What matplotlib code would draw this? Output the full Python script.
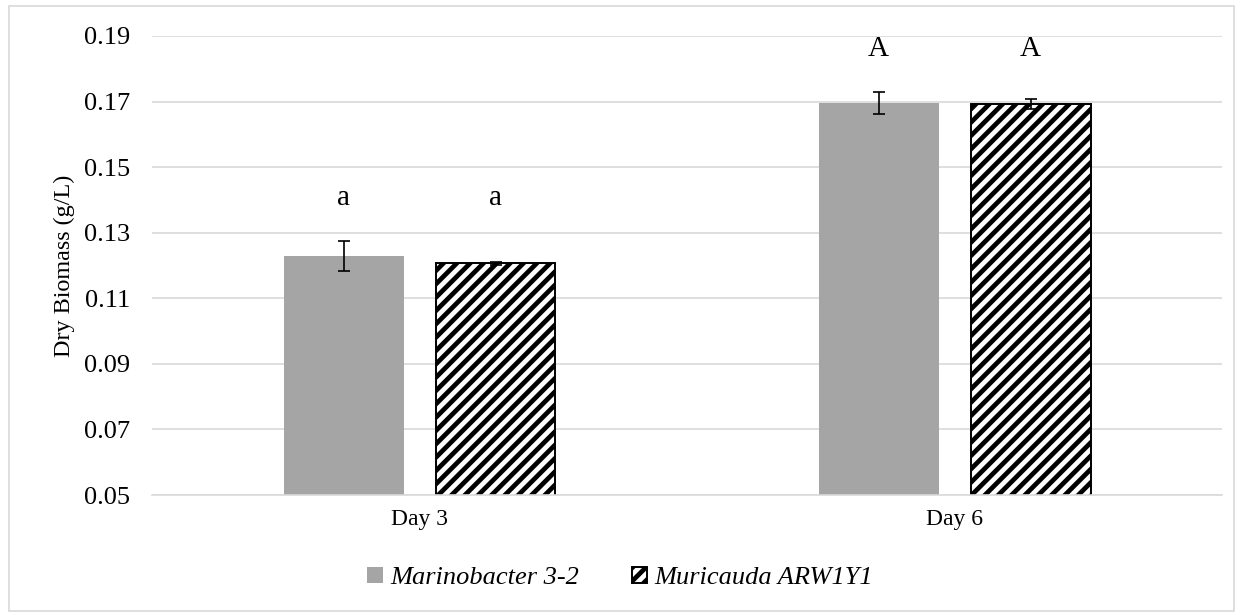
import numpy as np
import matplotlib.pyplot as plt
from matplotlib.patches import Rectangle

# data
days = ['Day 3', 'Day 6']
marino = [0.1229, 0.1695]
marino_err = [0.0046, 0.0034]
muri = [0.1207, 0.1692]
muri_err = [0.0005, 0.0015]
letters = ['a', 'A']
yticks = [0.05, 0.07, 0.09, 0.11, 0.13, 0.15, 0.17, 0.19]

plt.rcParams['font.family'] = ['Liberation Serif', 'DejaVu Serif']
plt.rcParams['hatch.linewidth'] = 1.7
plt.rcParams['hatch.color'] = 'black'

fig = plt.figure(figsize=(6.2, 3.075), dpi=200)
ax = fig.add_axes([0.1226, 0.195, 0.863, 0.7465])

x = np.arange(len(days))
w = 0.224
off = 0.142
ax.bar(x - off, marino, w, color='#a5a5a5', zorder=2, label='Marinobacter 3-2')
ax.errorbar(x - off, marino, yerr=marino_err, fmt='none', ecolor='black',
            elinewidth=0.6, capsize=2.1, capthick=0.6, zorder=3)
ax.bar(x + off, muri, w, color='white', edgecolor='black', linewidth=0.7,
       hatch='/////', zorder=2, label='Muricauda ARW1Y1')
ax.errorbar(x + off, muri, yerr=muri_err, fmt='none', ecolor='black',
            elinewidth=0.6, capsize=2.1, capthick=0.6, zorder=3)

# significance letters above each group
for i in range(len(days)):
    top = max(marino[i] + marino_err[i], muri[i] + muri_err[i]) + 0.013
    for xx in (x[i] - off, x[i] + off):
        ax.text(xx, top, letters[i], ha='center', va='center', fontsize=10.5)

ax.set_xlim(-0.5, 1.5)
ax.set_ylim(0.05, 0.19)
ax.set_yticks(yticks)
ax.set_yticklabels(['%.2f' % t for t in yticks])
ax.set_xticks(x)
ax.set_xticklabels(days)
ax.tick_params(axis='y', length=0, labelsize=9.5, pad=8)
ax.tick_params(axis='x', length=0, labelsize=8.5, pad=5)
ax.yaxis.grid(True, color='#d9d9d9', linewidth=0.6, zorder=0)
ax.set_axisbelow(True)
for s in ['top', 'right', 'left']:
    ax.spines[s].set_visible(False)
ax.spines['bottom'].set_color('#d9d9d9')
ax.spines['bottom'].set_linewidth(0.6)
ax.set_ylabel('Dry Biomass (g/L)', fontsize=8.7, labelpad=3)

leg = fig.legend(loc='center', bbox_to_anchor=(0.5, 1 - 578 / 615),
                 ncol=2, frameon=False, handlelength=0.6, handleheight=0.6,
                 handletextpad=0.25, columnspacing=2.0,
                 prop={'style': 'italic', 'size': 9.5})

fig.patches.append(Rectangle((0.007, 0.006), 0.988, 0.984, transform=fig.transFigure,
                             fill=False, edgecolor='#d9d9d9', linewidth=0.6))

plt.savefig('out.png', dpi=200)
